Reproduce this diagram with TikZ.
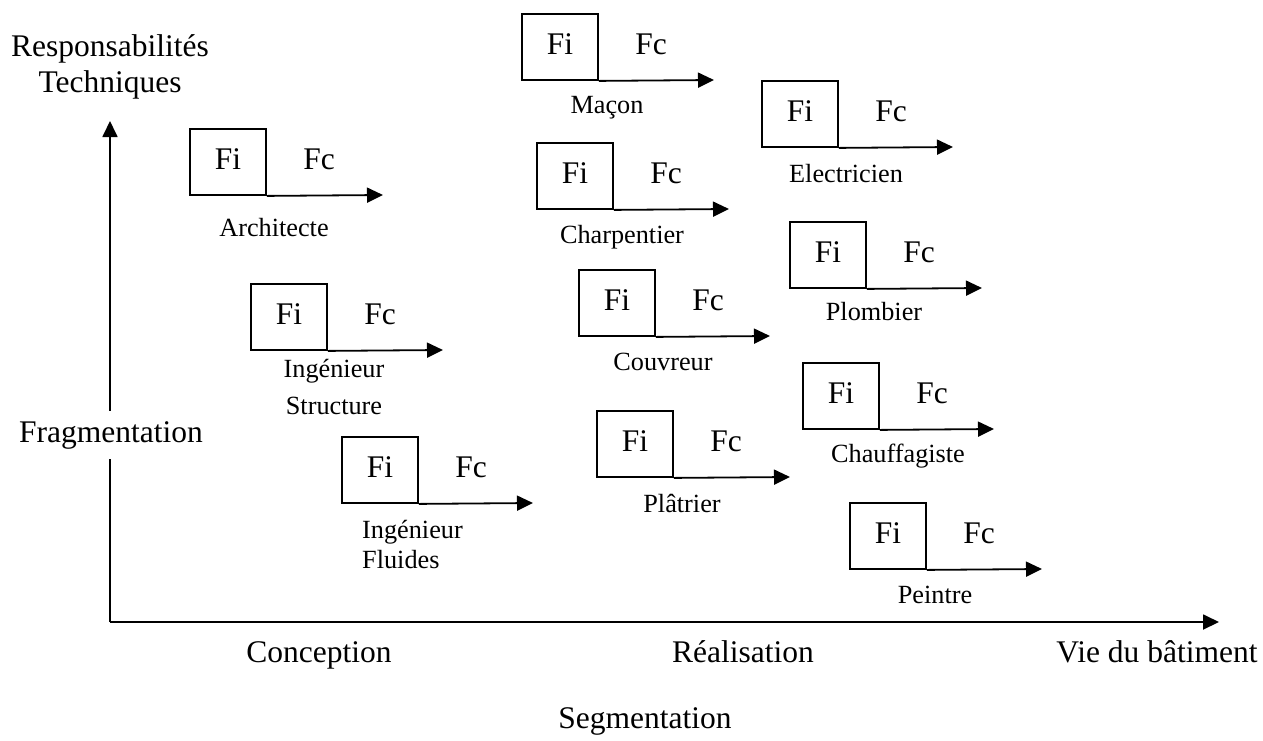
\documentclass[tikz,border=0pt]{standalone}
\usepackage{fontspec}
\setmainfont{Liberation Serif}
\usetikzlibrary{arrows.meta}
\newcommand{\bigfont}{\fontsize{31.5}{36}\selectfont}
\newcommand{\labfont}{\fontsize{26.25}{37}\selectfont}
\begin{document}
\begin{tikzpicture}[x=1pt,y=-1pt]
    \tikzstyle{fibox}=[draw,line width=1.8pt,minimum width=76pt,minimum height=66pt,inner sep=0pt,font=\bigfont,text height=21pt,text depth=6pt];
    \tikzstyle{fc}=[inner sep=0pt,font=\bigfont,text height=21pt,text depth=6pt];
    \tikzstyle{lab}=[inner sep=0pt,font=\labfont,anchor=base];
    \tikzstyle{axlab}=[inner sep=0pt,font=\bigfont,anchor=base];
    \tikzstyle{flow}=[-{Triangle[length=16pt,width=15pt]},line width=1.8pt];
    \useasboundingbox (0,0) rectangle (1263,740);

    % axes
    \coordinate (o) at (110,622);
    \coordinate (ytop) at (110,121);
    \coordinate (xend) at (1219,622);
    \draw[flow] (o) -- (ytop);
    \draw[flow] (o) -- (xend);

    \node[inner sep=0pt,font=\bigfont,align=center,anchor=north] (resp) at (110,34) {Responsabilités\\Techniques};
    \node[axlab,fill=white,inner ysep=10pt] (frag) at (111,442) {Fragmentation};
    \node[axlab] (conc) at (319,662) {Conception};
    \node[axlab] (real) at (743,662) {Réalisation};
    \node[axlab] (vie) at (1157,662) {Vie du bâtiment};
    \node[axlab] (segm) at (645,728) {Segmentation};

    % conception
    \node[fibox] (arch) at (228,162) {Fi};
    \node[fc] (archc) at (319,162) {Fc};
    \coordinate (arche) at (383,195);
    \draw[flow] (arch.south east) -- (arche);
    \node[lab] (archl) at (274,236) {Architecte};

    \node[fibox] (istr) at (289,317) {Fi};
    \node[fc] (istrc) at (380,317) {Fc};
    \coordinate (istre) at (443,350);
    \draw[flow] (istr.south east) -- (istre);
    \node[lab,align=center,anchor=north] (istrl) at (334,359) {Ingénieur\\Structure};

    \node[fibox] (iflu) at (380,470) {Fi};
    \node[fc] (ifluc) at (471,470) {Fc};
    \coordinate (iflue) at (533,503);
    \draw[flow] (iflu.south east) -- (iflue);
    \node[lab,font=\fontsize{26.25}{30}\selectfont,align=left,anchor=north west] (iflul) at (362,520) {Ingénieur\\Fluides};

    % realisation
    \node[fibox] (macon) at (560,47) {Fi};
    \node[fc] (maconc) at (651,47) {Fc};
    \coordinate (macone) at (714,80);
    \draw[flow] (macon.south east) -- (macone);
    \node[lab] (maconl) at (607,113) {Maçon};

    \node[fibox] (charp) at (575,176) {Fi};
    \node[fc] (charpc) at (666,176) {Fc};
    \coordinate (charpe) at (729,209);
    \draw[flow] (charp.south east) -- (charpe);
    \node[lab] (charpl) at (622,243) {Charpentier};

    \node[fibox] (couv) at (617,303) {Fi};
    \node[fc] (couvc) at (708,303) {Fc};
    \coordinate (couve) at (770,336);
    \draw[flow] (couv.south east) -- (couve);
    \node[lab] (couvl) at (663,370) {Couvreur};

    \node[fibox] (plat) at (635,444) {Fi};
    \node[fc] (platc) at (726,444) {Fc};
    \coordinate (plate) at (790,477);
    \draw[flow] (plat.south east) -- (plate);
    \node[lab] (platl) at (682,512) {Plâtrier};

    % second oeuvre
    \node[fibox] (elec) at (800,114) {Fi};
    \node[fc] (elecc) at (891,114) {Fc};
    \coordinate (elece) at (953,147);
    \draw[flow] (elec.south east) -- (elece);
    \node[lab] (elecl) at (846,182) {Electricien};

    \node[fibox] (plomb) at (828,255) {Fi};
    \node[fc] (plombc) at (919,255) {Fc};
    \coordinate (plombe) at (982,288);
    \draw[flow] (plomb.south east) -- (plombe);
    \node[lab] (plombl) at (874,320) {Plombier};

    \node[fibox] (chauf) at (841,396) {Fi};
    \node[fc] (chaufc) at (932,396) {Fc};
    \coordinate (chaufe) at (994,429);
    \draw[flow] (chauf.south east) -- (chaufe);
    \node[lab] (chaufl) at (898,462) {Chauffagiste};

    \node[fibox] (peint) at (888,536) {Fi};
    \node[fc] (peintc) at (979,536) {Fc};
    \coordinate (peinte) at (1042,569);
    \draw[flow] (peint.south east) -- (peinte);
    \node[lab] (peintl) at (935,603) {Peintre};
\end{tikzpicture}
\end{document}
